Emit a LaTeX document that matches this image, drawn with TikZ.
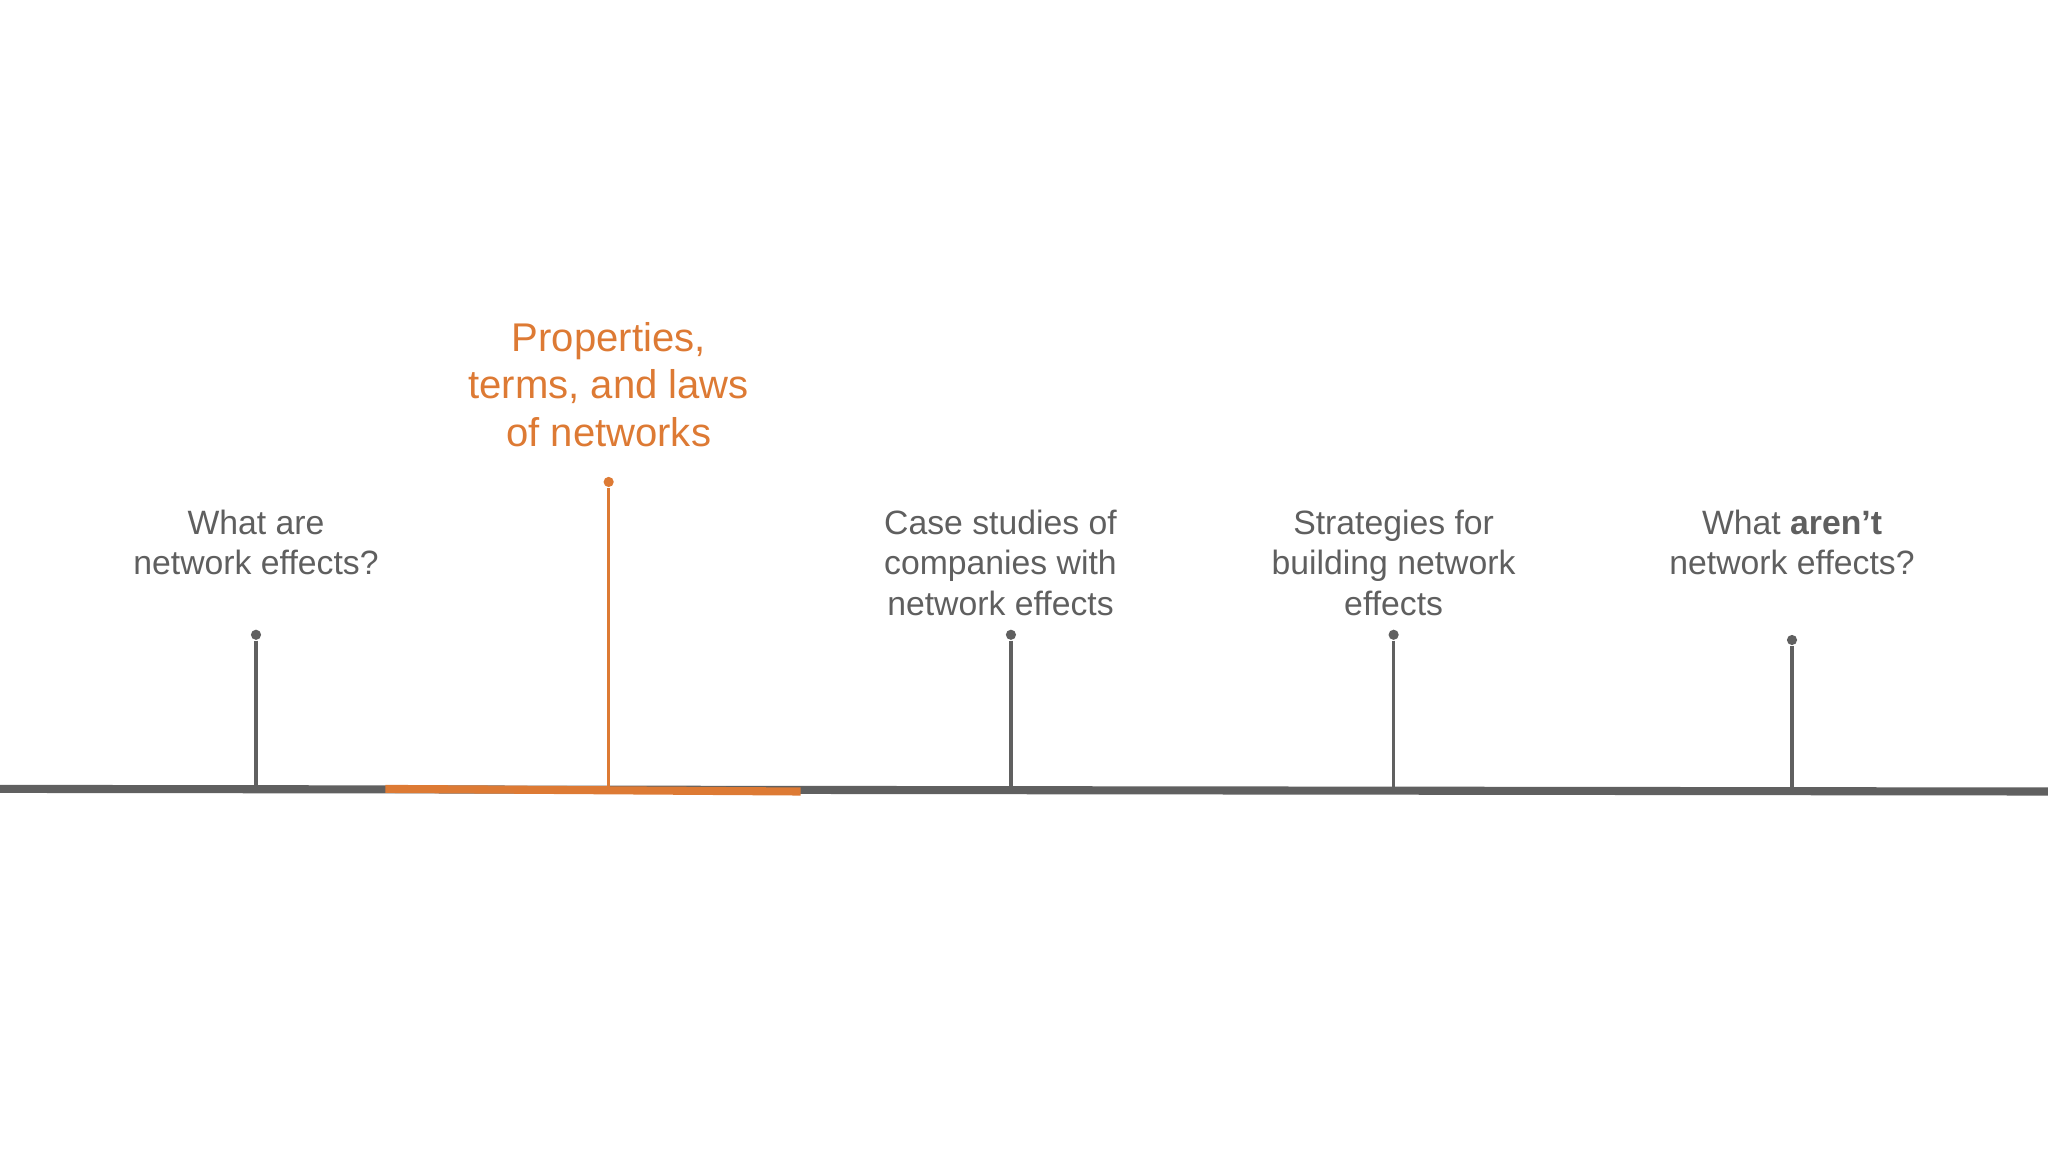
\documentclass[tikz,border=0pt]{standalone}
\usepackage{fontspec}
\setmainfont{Liberation Sans}
\definecolor{tgray}{HTML}{606060}
\definecolor{ttext}{HTML}{5F5F5F}
\definecolor{torange}{HTML}{DD7A34}
\begin{document}
\begin{tikzpicture}[x=0.013061cm,y=-0.013061cm,
  lbl/.style={align=center,text=ttext,font=\fontsize{9.6pt}{11.5pt}\selectfont,inner sep=0},
  stem/.style={draw=tgray,line width=0.9pt},
  dot/.style={circle,fill=tgray,inner sep=0,minimum size=2.9pt}]
\useasboundingbox (0,0) rectangle (1568,882);
\coordinate (L) at (0,604);
\coordinate (R) at (1568,606);
\coordinate (oa) at (295,604);
\coordinate (ob) at (613,606);
\draw[tgray,line width=2.3pt] (L) -- (R);
\draw[torange,line width=2.3pt] (oa) -- (ob);
\foreach \n/\x/\y in {a/196/486,c/774/486,d/1067/486,e/1372/490}{
  \node[dot] (d\n) at (\x,\y) {};
  \coordinate (b\n) at (\x,604);
  \draw[stem] (d\n) -- (b\n);
}
\node[dot,fill=torange] (db) at (466,369) {};
\coordinate (bb) at (466,604);
\draw[stem,draw=torange] (db) -- (bb);
\node[lbl] (ta) at (196,415.5) {What are\\network effects?};
\node[lbl,text=torange,font=\fontsize{11.4pt}{13.5pt}\selectfont] (tb) at (466,294.5) {Properties,\\terms, and laws\\of networks};
\node[lbl] (tc) at (766,431) {Case studies of\\companies with\\network effects};
\node[lbl] (td) at (1067,431) {Strategies for\\building network\\effects};
\node[lbl] (te) at (1372,415.5) {What \textbf{aren’t}\\network effects?};
\end{tikzpicture}
\end{document}
